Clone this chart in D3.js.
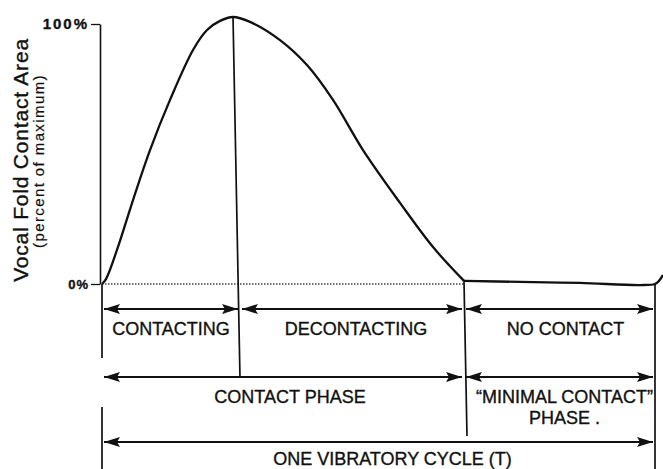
<!DOCTYPE html>
<html>
<head>
<meta charset="utf-8">
<script src="https://cdn.jsdelivr.net/npm/d3@7"></script>
<style>
	body { margin: 0; background: #fff; }
	svg { display: block; }
	text { font-family: "Liberation Sans", Arial, sans-serif; fill: #111; stroke: #111; stroke-width: 0.35px; }
</style>
</head>
<body>
<script>
// contact area curve, t = fraction of one cycle, v = percent of maximum
var pulseT = [0, 0.0072, 0.0271, 0.0561, 0.0868, 0.123, 0.1646, 0.1899, 0.2134, 0.2369,
	0.2676, 0.3219, 0.3707, 0.4177, 0.472, 0.5389, 0.5986, 0.6546];
var pulseV = [0, 1.9, 13.1, 32.3, 51.5, 70.8, 90, 97.7, 101.2, 102.7,
	100.8, 93.8, 84.2, 70.8, 51.5, 31.2, 14.2, 1.2];

// the flat "no contact" part, and the start of the next cycle
var flatT = [0.6546, 0.7559, 0.8644, 0.9729, 1.0, 1.0072, 1.0145];
var flatV = [1.2, 0.8, 0.4, -0.4, 0, 1.2, 3.5];

var yTicks = [0, 100];

// bands of arrows under the chart
var row1Bounds = [0, 0.2495, 0.6546, 1];
var row1Labels = ['CONTACTING', 'DECONTACTING', 'NO CONTACT'];
var row2Bounds = [0, 0.6546, 1];
var row2Labels = [['CONTACT PHASE'], ['\u201CMINIMAL CONTACT\u201D', 'PHASE .']];
var row3Bounds = [0, 1];
var row3Labels = [['ONE VIBRATORY CYCLE (T)']];

var peakT = 0.2369;

var width = 663, height = 469;

var svg = d3.select('body').append('svg')
	.attr('width', width)
	.attr('height', height);

var x = d3.scaleLinear().domain([0, 1]).range([102, 655]);
var y = d3.scaleLinear().domain([0, 100]).range([284, 24]);

// arrow head, used on both ends
var defs = svg.append('defs');
defs.append('marker')
	.attr('id', 'head')
	.attr('viewBox', '0 0 16 10')
	.attr('markerUnits', 'userSpaceOnUse')
	.attr('markerWidth', 16)
	.attr('markerHeight', 10)
	.attr('refX', 16)
	.attr('refY', 5)
	.attr('orient', 'auto-start-reverse')
	.append('path')
	.attr('d', 'M0,0 L16,5 L0,10 L3,5 Z')
	.attr('fill', '#111');

// y axis
var axis = d3.axisLeft(y)
	.tickValues(yTicks)
	.tickFormat(function(d) { return d + '%'; })
	.tickSize(9)
	.tickSizeOuter(0)
	.tickPadding(2);

var gAxis = svg.append('g')
	.attr('transform', 'translate(' + (x(0) - 2) + ',0)')
	.call(axis);
gAxis.select('.domain').attr('stroke', '#111').attr('stroke-width', 1.6);
gAxis.selectAll('.tick line').attr('stroke', '#111').attr('stroke-width', 1.3);
gAxis.selectAll('.tick text')
	.attr('fill', '#111')
	.style('font-family', '"Liberation Sans", Arial, sans-serif')
	.style('font-weight', 'bold')
	.style('font-size', function(d) { return d == 100 ? '15px' : '13px'; })
	.style('letter-spacing', function(d) { return d == 100 ? '2px' : '1px'; });

// y titles
svg.append('text')
	.attr('transform', 'translate(28,160) rotate(-90)')
	.attr('text-anchor', 'middle')
	.style('font-size', '21px')
	.style('letter-spacing', '0.8px')
	.text('Vocal Fold Contact Area');

svg.append('text')
	.attr('transform', 'translate(44,161) rotate(-90)')
	.attr('text-anchor', 'middle')
	.style('font-size', '15px')
	.style('letter-spacing', '1.4px')
	.style('stroke-width', '0.2px')
	.text('(percent of maximum)');

// dotted zero line under the pulse
svg.append('line')
	.attr('x1', x(0)).attr('x2', x(pulseT[pulseT.length - 1]))
	.attr('y1', y(0)).attr('y2', y(0))
	.attr('stroke', '#444')
	.attr('stroke-width', 1.3)
	.attr('stroke-dasharray', '1.5,1.5');

// the curve
var line = d3.line()
	.x(function(d) { return x(d[0]); })
	.y(function(d) { return y(d[1]); })
	.curve(d3.curveCatmullRom.alpha(0.5));

svg.append('path')
	.datum(d3.zip(pulseT, pulseV))
	.attr('d', line)
	.attr('fill', 'none')
	.attr('stroke', '#111')
	.attr('stroke-width', 2.3);

svg.append('path')
	.datum(d3.zip(flatT, flatV))
	.attr('d', line)
	.attr('fill', 'none')
	.attr('stroke', '#111')
	.attr('stroke-width', 2.3);

// row positions
var row1Y = 309, row2Y = 377, row3Y = 442;

// vertical dividers
var vlines = [
	[x(0), 284, x(0), 358],
	[x(0), 407, x(0), height],
	[x(1), 283, x(1), height],
	[x(peakT), y(d3.max(pulseV)), x(row1Bounds[1]), row2Y],
	[x(row1Bounds[2]), y(pulseV[pulseV.length - 1]), x(row1Bounds[2]) + 3, 436]
];
svg.selectAll('.vline')
	.data(vlines)
	.enter().append('line')
	.attr('class', 'vline')
	.attr('x1', function(d) { return d[0]; })
	.attr('y1', function(d) { return d[1]; })
	.attr('x2', function(d) { return d[2]; })
	.attr('y2', function(d) { return d[3]; })
	.attr('stroke', '#111')
	.attr('stroke-width', 1.7);

function drawRow(bounds, labels, yRow, textY, shifts) {
	for (var i = 0; i < bounds.length - 1; i++) {
		var x1 = x(bounds[i]) + 2, x2 = x(bounds[i + 1]) - 2;
		svg.append('line')
			.attr('x1', x1).attr('x2', x2)
			.attr('y1', yRow).attr('y2', yRow)
			.attr('stroke', '#111')
			.attr('stroke-width', 2.2)
			.attr('marker-start', 'url(#head)')
			.attr('marker-end', 'url(#head)');

		var lines = [].concat(labels[i]);
		var cx = (x1 + x2) / 2 + (shifts ? shifts[i] : 0);
		for (var k = 0; k < lines.length; k++) {
			svg.append('text')
				.attr('x', cx)
				.attr('y', textY + k * 21)
				.attr('text-anchor', 'middle')
				.style('font-size', '18px')
				.text(lines[k]);
		}
	}
}

drawRow(row1Bounds, row1Labels, row1Y, 335, [0, 4, 6]);
drawRow(row2Bounds, row2Labels, row2Y, 403, [7, 5]);
drawRow(row3Bounds, row3Labels, row3Y, 465, [14]);
</script>
</body>
</html>
